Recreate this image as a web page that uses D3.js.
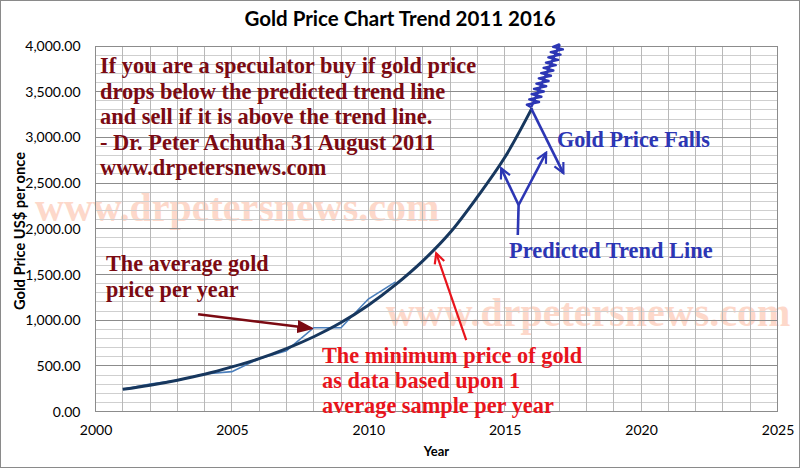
<!DOCTYPE html>
<html>
<head>
<meta charset="utf-8">
<script src="https://cdn.jsdelivr.net/npm/d3@7"></script>
<style>
  body { margin: 0; background: #fff; }
  svg { display: block; }
</style>
</head>
<body>
<div id="chart"></div>
<script>
// yearly average gold price (thin line)
const years = [2001, 2002, 2003, 2004, 2005, 2006, 2007, 2008, 2009, 2010, 2011];
const avgPrice = [245, 303, 343, 412, 438, 580, 667, 919, 919, 1232, 1420];

// predicted trend line
const trendYears = [2001, 2002, 2003, 2004, 2005, 2006, 2007, 2008, 2009, 2010, 2011, 2012, 2013, 2014, 2015, 2016];
const trendPrice = [245, 290, 345, 410, 490, 580, 690, 820, 975, 1165, 1390, 1650, 1960, 2350, 2780, 3320];

const xTicks = [2000, 2005, 2010, 2015, 2020, 2025];
const yTicks = [0, 500, 1000, 1500, 2000, 2500, 3000, 3500, 4000];

// hand drawn annotation arrows, in [year, price] pairs
const fallsArrow = [[2015.97, 3318], [2017.15, 2609]];
const forkStem = [[2015.48, 1933], [2015.51, 2261]];
const forkLeft = [[2015.51, 2261], [2014.87, 2662]];
const forkRight = [[2015.51, 2261], [2016.52, 2833]];
const avgArrow = [[2003.76, 1065], [2007.91, 912]];
const minArrow = [[2013.59, 784], [2012.49, 1733]];
const spring = [[2015.97, 3330], [2017.02, 4020]];

const width = 800, height = 468;
const margin = {top: 46, right: 22.5, bottom: 56.3, left: 95.5};

const x = d3.scaleLinear()
    .domain([2000, 2025])
    .range([margin.left, width - margin.right]);

const y = d3.scaleLinear()
    .domain([0, 4000])
    .range([height - margin.bottom, margin.top]);

const svg = d3.select("#chart").append("svg")
    .attr("width", width)
    .attr("height", height);

svg.append("rect")
    .attr("x", 0.5).attr("y", 0.5)
    .attr("width", width - 1).attr("height", height - 1)
    .attr("fill", "#fff")
    .attr("stroke", "#8a8a8a");

// watermarks sit under the grid
const wm = svg.append("g")
    .attr("font-family", "'Liberation Serif', 'Times New Roman', serif")
    .attr("font-weight", "bold")
    .attr("font-size", 40)
    .attr("fill", "#fdd8ca");
wm.append("text").attr("x", 35).attr("y", 221).text("www.drpetersnews.com");
wm.append("text").attr("x", 386).attr("y", 326).text("www.drpetersnews.com");

// grid
const grid = svg.append("g").attr("shape-rendering", "crispEdges");
grid.selectAll(".minor-y")
    .data(d3.range(100, 4000, 100).filter(function(d) { return d % 500 !== 0; }))
  .enter().append("line")
    .attr("x1", x(2000)).attr("x2", x(2025))
    .attr("y1", y).attr("y2", y)
    .attr("stroke", "#cfcfcf");
grid.selectAll(".vx")
    .data(d3.range(2001, 2025))
  .enter().append("line")
    .attr("x1", x).attr("x2", x)
    .attr("y1", y(0)).attr("y2", y(4000))
    .attr("stroke", "#b8b8b8");
grid.selectAll(".major-y")
    .data(yTicks)
  .enter().append("line")
    .attr("x1", x(2000)).attr("x2", x(2025))
    .attr("y1", y).attr("y2", y)
    .attr("stroke", "#8c8c8c");
grid.append("rect")
    .attr("x", x(2000)).attr("y", y(4000))
    .attr("width", x(2025) - x(2000)).attr("height", y(0) - y(4000))
    .attr("fill", "none")
    .attr("stroke", "#8c8c8c");

// axes
const yAxis = d3.axisLeft(y)
    .tickValues(yTicks)
    .tickSize(0)
    .tickPadding(15)
    .tickFormat(d3.format(",.2f"));
const gy = svg.append("g")
    .attr("transform", "translate(" + margin.left + ",0)")
    .call(yAxis);
gy.select(".domain").remove();
gy.selectAll("text")
    .attr("font-family", "Lato, 'Open Sans', sans-serif")
    .attr("font-size", 14)
    .attr("fill", "#000");

const xAxis = d3.axisBottom(x)
    .tickValues(xTicks)
    .tickSize(0)
    .tickPadding(13)
    .tickFormat(d3.format("d"));
const gx = svg.append("g")
    .attr("transform", "translate(0," + y(0) + ")")
    .call(xAxis);
gx.select(".domain").remove();
gx.selectAll("text")
    .attr("font-family", "Lato, 'Open Sans', sans-serif")
    .attr("font-size", 14)
    .attr("fill", "#000");

svg.append("text")
    .attr("x", width / 2).attr("y", 26)
    .attr("text-anchor", "middle")
    .attr("font-family", "Lato, 'Open Sans', sans-serif")
    .attr("font-weight", "bold")
    .attr("font-size", 20.5)
    .text("Gold Price Chart Trend 2011 2016");

svg.append("text")
    .attr("x", (x(2000) + x(2025)) / 2).attr("y", 456)
    .attr("text-anchor", "middle")
    .attr("font-family", "Lato, 'Open Sans', sans-serif")
    .attr("font-weight", "bold")
    .attr("font-size", 13)
    .text("Year");

svg.append("text")
    .attr("transform", "translate(25,231) rotate(-90)")
    .attr("text-anchor", "middle")
    .attr("font-family", "Lato, 'Open Sans', sans-serif")
    .attr("font-weight", "bold")
    .attr("font-size", 15)
    .attr("textLength", 158)
    .attr("lengthAdjust", "spacingAndGlyphs")
    .text("Gold Price US$ per once");

// data lines
const line = d3.line()
    .x(function(d) { return x(d[0]); })
    .y(function(d) { return y(d[1]); });

svg.append("path")
    .datum(d3.zip(years, avgPrice))
    .attr("d", line)
    .attr("fill", "none")
    .attr("stroke", "#4a7ebb")
    .attr("stroke-width", 1.6);

svg.append("path")
    .datum(d3.zip(trendYears, trendPrice))
    .attr("d", line.curve(d3.curveCatmullRom))
    .attr("fill", "none")
    .attr("stroke", "#17375e")
    .attr("stroke-width", 3);
line.curve(d3.curveLinear);

// arrow heads
const defs = svg.append("defs");
function marker(id, color, filled) {
  defs.append("marker")
      .attr("id", id)
      .attr("viewBox", "-14 -7 16 14")
      .attr("markerWidth", 16).attr("markerHeight", 14)
      .attr("markerUnits", "userSpaceOnUse")
      .attr("orient", "auto")
    .append("path")
      .attr("d", filled ? "M-13,-5L0,0L-13,5Z" : "M-10,-5L0,0L-10,5")
      .attr("fill", filled ? color : "none")
      .attr("stroke", color)
      .attr("stroke-width", 2.2)
      .attr("stroke-linejoin", "miter");
}
marker("head-blue", "#2c36b4", false);
marker("head-red", "#e8141c", false);
marker("head-dred", "#7b0a12", true);

const blue = "#2c36b4";
[[fallsArrow, true], [forkStem, false], [forkLeft, true], [forkRight, true]].forEach(function(a) {
  svg.append("path")
      .datum(a[0])
      .attr("d", line)
      .attr("fill", "none")
      .attr("stroke", blue)
      .attr("stroke-width", 2.6)
      .attr("marker-end", a[1] ? "url(#head-blue)" : null);
});

svg.append("path")
    .datum(avgArrow)
    .attr("d", line)
    .attr("stroke", "#7b0a12")
    .attr("stroke-width", 2.6)
    .attr("marker-end", "url(#head-dred)");

svg.append("path")
    .datum(minArrow)
    .attr("d", line)
    .attr("stroke", "#e8141c")
    .attr("stroke-width", 2.2)
    .attr("marker-end", "url(#head-red)");

// spring shaped scribble above the trend line
const s0 = [x(spring[0][0]), y(spring[0][1])],
    s1 = [x(spring[1][0]), y(spring[1][1])];
svg.append("line")
    .attr("x1", s0[0]).attr("y1", s0[1])
    .attr("x2", s1[0]).attr("y2", s1[1])
    .attr("stroke", blue)
    .attr("stroke-width", 2.4);
const zig = [];
const n = 24;
for (let i = 0; i <= n; i++) {
  const t = i / n;
  const side = i === 0 || i === n ? 0 : (i % 2 ? -5.5 : 5.5);
  zig.push([s0[0] + (s1[0] - s0[0]) * t + side, s0[1] + (s1[1] - s0[1]) * t]);
}
svg.append("path")
    .attr("d", d3.line()(zig))
    .attr("fill", "none")
    .attr("stroke", blue)
    .attr("stroke-width", 2.4)
    .attr("stroke-linejoin", "round");

// annotation texts
function textBlock(lines, x0, y0, dy, color, size) {
  const t = svg.append("text")
      .attr("font-family", "'Liberation Serif', 'Times New Roman', serif")
      .attr("font-weight", "bold")
      .attr("font-size", size)
      .attr("fill", color);
  lines.forEach(function(l, i) {
    t.append("tspan").attr("x", x0).attr("y", y0 + i * dy).text(l);
  });
}

textBlock([
  "If you are a speculator buy if gold price",
  "drops below the predicted trend line",
  "and sell if it is above the trend line.",
  "- Dr. Peter Achutha 31 August 2011",
  "www.drpetersnews.com"
], 100, 73, 25.6, "#7b0a12", 22.4);

textBlock(["The average gold", "price per year"], 106, 271, 26, "#7b0a12", 22.2);

textBlock([
  "The minimum price of gold",
  "as data based upon 1",
  "average sample per year"
], 322, 363, 25, "#e8141c", 22.3);

textBlock(["Gold Price Falls"], 557, 147, 0, blue, 22.2);
textBlock(["Predicted Trend Line"], 509, 258, 0, blue, 22.4);
</script>
</body>
</html>
